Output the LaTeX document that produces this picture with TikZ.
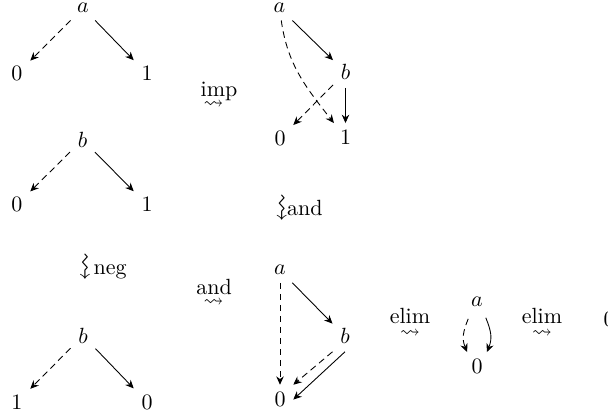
\documentclass[tikz,border=0pt]{standalone}
\usepackage{amsmath,amssymb}
\usepackage{graphicx}
\usetikzlibrary{arrows.meta}
\begin{document}
\begin{tikzpicture}[x=0.4545pt,y=-0.4545pt,
  lbl/.style={anchor=base},
  txt/.style={anchor=base},
  arr/.style={-{Stealth[length=3.8pt,width=3.4pt]}},
  darr/.style={arr, dash pattern=on 3pt off 2pt},
  hsq/.style={inner sep=0pt, font=\fontsize{9}{9}\selectfont},
  vsq/.style={inner sep=0pt, font=\fontsize{13}{13}\selectfont}]
\useasboundingbox (0,0) rectangle (608,412);
% tree 1
\node[lbl] (a1) at (83,12.7) {$a$};
\node[lbl] (z1) at (17,81) {$0$};
\node[lbl] (o1) at (147,81) {$1$};
\draw[darr] (a1) -- (z1);
\draw[arr] (a1) -- (o1);
% tree 3
\node[lbl] (b3) at (82.5,147.3) {$b$};
\node[lbl] (z3) at (17,211.7) {$0$};
\node[lbl] (o3) at (147,211.7) {$1$};
\draw[darr] (b3) -- (z3);
\draw[arr] (b3) -- (o3);
% tree 4
\node[lbl] (b4) at (83,343.3) {$b$};
\node[lbl] (o4) at (17,409.3) {$1$};
\node[lbl] (z4) at (147,409.3) {$0$};
\draw[darr] (b4) -- (o4);
\draw[arr] (b4) -- (z4);
% tree 2
\node[lbl] (a2) at (279.5,12.7) {$a$};
\node[lbl] (b2) at (345.5,80) {$b$};
\node[lbl] (z2) at (280,145.5) {$0$};
\node[lbl] (o2) at (345.5,145) {$1$};
\draw[arr] (a2) -- (b2);
\draw[darr] (b2) -- (z2);
\draw[arr] (b2) -- (o2);
\draw[darr] (a2) to[out=-82,in=128] (o2);
% tree 5
\node[lbl] (a5) at (280,275) {$a$};
\node[lbl] (b5) at (345,344) {$b$};
\node[lbl] (z5) at (280,406.7) {$0$};
\draw[darr] (a5) -- (z5);
\draw[arr] (a5) -- (b5);
\draw[darr] (b5.south west) -- (z5.north east);
\draw[arr] (b5.south) -- (z5.east);
% tree 6
\node[lbl] (a6) at (477,306.7) {$a$};
\node[lbl] (z6) at (477,374) {$0$};
\draw[darr] ([xshift=-4pt,yshift=-2pt]a6.south) to[out=-112,in=112,looseness=1.1] ([xshift=-4.5pt]z6.north);
\draw[arr] ([xshift=4pt,yshift=-1.5pt]a6.south) to[out=-68,in=68,looseness=1.1] ([xshift=4.5pt]z6.north);
% final
\node[lbl] (z7) at (609,327) {$0$};
% labels
\node[txt] (imp) at (219,96.7) {imp};
\node[hsq] (impsq) at (213.5,105) {$\leadsto$};
\node[txt] (and2) at (214,295) {and};
\node[hsq] (and2sq) at (213.5,303) {$\leadsto$};
\node[txt] (elim1) at (410,323.6) {elim};
\node[hsq] (elim1sq) at (410,334) {$\leadsto$};
\node[txt] (elim2) at (542,323.6) {elim};
\node[hsq] (elim2sq) at (542,334) {$\leadsto$};
\node[vsq] (andsq) at (280,208) {\rotatebox{-90}{$\leadsto$}};
\node[txt,anchor=base west,inner sep=0pt] (and1) at (286.7,216) {and};
\node[vsq] (negsq) at (83.3,267) {\rotatebox{-90}{$\leadsto$}};
\node[txt,anchor=base west,inner sep=0pt] (neg) at (93.3,275) {neg};
\end{tikzpicture}
\end{document}
